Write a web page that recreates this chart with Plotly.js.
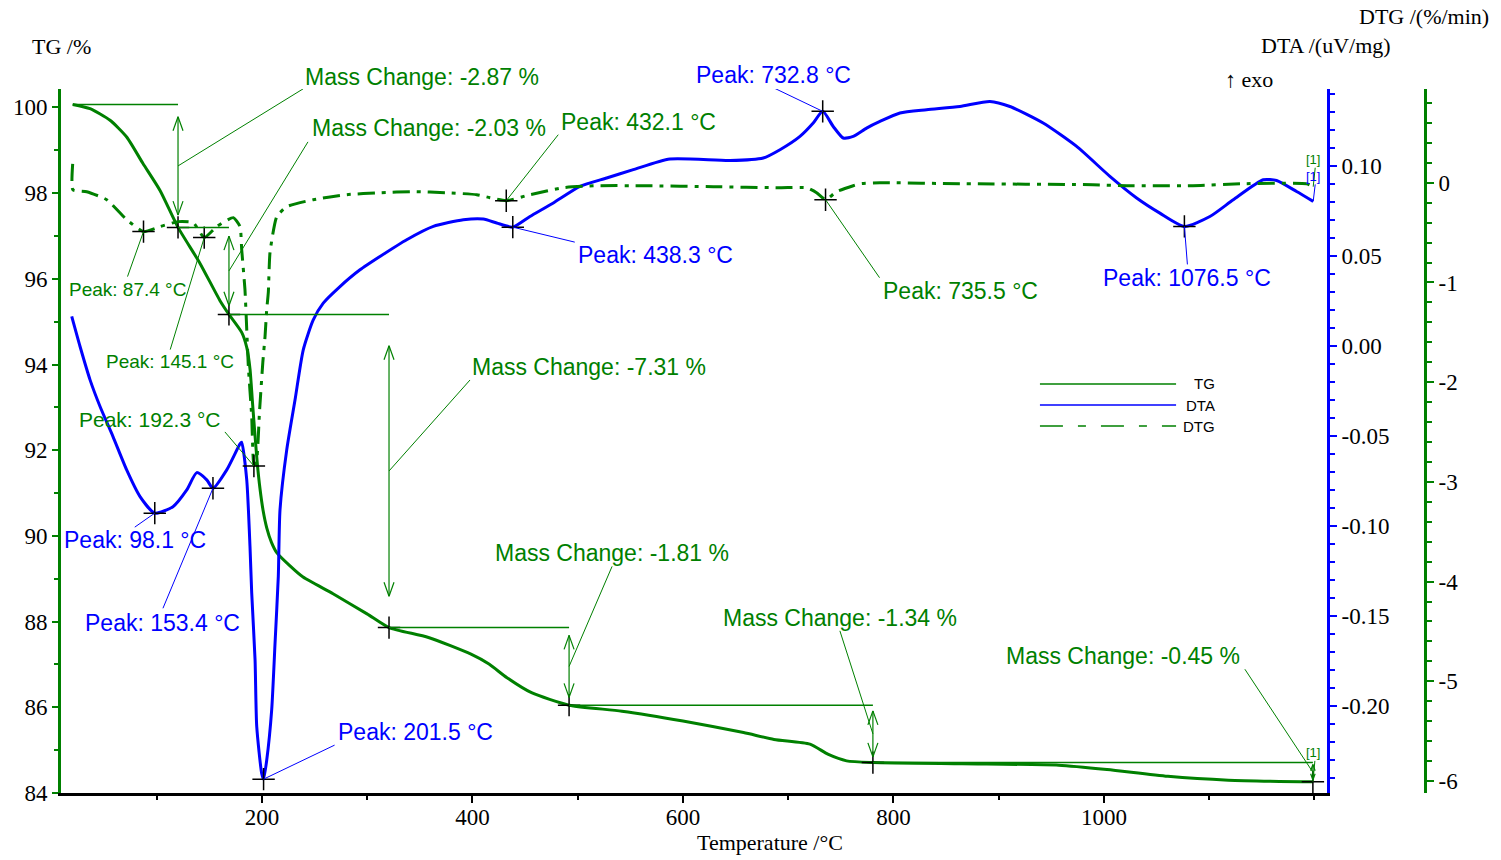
<!DOCTYPE html>
<html>
<head>
<meta charset="utf-8">
<script src="https://cdn.plot.ly/plotly-3.0.1.min.js"></script>
<style>
  html, body { margin: 0; padding: 0; background: #ffffff; }
  #chart { width: 1501px; height: 860px; }
</style>
</head>
<body>
<div id="chart"></div>
<script>
// ---- Measured curves ----------------------------------------------------
// TG: residual mass (%) against temperature (°C)
const tgTemp = [20.1, 36.6, 55.6, 71.4, 86.9, 103.1, 120.2, 141.1, 160.1, 168.6,
  180.7, 185.5, 188.6, 191.0, 193.5, 195.5, 198.1, 201.0, 204.5, 209.0, 214.0,
  226.6, 239.0, 267.5, 299.8, 320.7, 358.2, 398.6, 415.7, 432.8, 456.1, 491.8,
  542.0, 600.0, 657.6, 686.5, 720.7, 738.2, 755.5, 780.5, 865.1, 957.1, 1002.9,
  1060.8, 1118.3, 1198.6];
const tgMass = [100.07, 99.97, 99.70, 99.31, 98.69, 98.06, 97.20, 96.36, 95.49, 95.17,
  94.75, 94.40, 93.90, 93.10, 92.30, 91.70, 91.10, 90.60, 90.19, 89.85, 89.61,
  89.30, 89.04, 88.65, 88.18, 87.86, 87.63, 87.24, 87.01, 86.69, 86.34, 86.05,
  85.91, 85.68, 85.41, 85.25, 85.14, 84.90, 84.75, 84.71, 84.68, 84.65, 84.55,
  84.39, 84.30, 84.26];

// DTA: heat flow signal (uV/mg), exo up
const dtaTemp = [19.2, 27.1, 36.6, 46.1, 58.4, 71.4, 84.1, 98.1, 115.4, 128.5,
  138.0, 147.5, 153.4, 166.5, 179.1, 180.7, 185.5, 188.6, 190.2, 193.4, 195.0,
  199.7, 201.5, 204.5, 209.2, 212.4, 215.5, 217.1, 223.5, 231.4, 239.2, 248.7,
  258.2, 274.1, 293.1, 312.1, 337.5, 362.8, 391.3, 410.3, 423.0, 438.3, 454.6,
  476.8, 502.1, 527.5, 552.8, 587.6, 644.7, 676.3, 692.2, 711.2, 723.8, 732.8,
  742.8, 752.3, 761.8, 774.5, 787.2, 806.2, 831.5, 863.2, 891.7, 910.7, 942.3,
  974.1, 1005.7, 1031.1, 1053.2, 1076.5, 1100.7, 1122.9, 1151.4, 1164.1, 1183.1,
  1198.9];
const dtaSignal = [0.0163, -0.0004, -0.0189, -0.0337, -0.0504, -0.0689, -0.0837, -0.0929, -0.0893, -0.0800,
  -0.0704, -0.0744, -0.0791, -0.0689, -0.0545, -0.0535, -0.0744, -0.1115, -0.1370, -0.1744, -0.2115,
  -0.2374, -0.2406, -0.2300, -0.2022, -0.1650, -0.1280, -0.0911, -0.0578, -0.0300, -0.0022, 0.0144,
  0.0237, 0.0329, 0.0422, 0.0496, 0.0589, 0.0663, 0.0700, 0.0704, 0.0682, 0.0659, 0.0718,
  0.0793, 0.0885, 0.0932, 0.0978, 0.1037, 0.1029, 0.1043, 0.1089, 0.1163, 0.1237, 0.1302,
  0.1218, 0.1154, 0.1163, 0.1209, 0.1246, 0.1293, 0.1311, 0.1329, 0.1357, 0.1329, 0.1237,
  0.1107, 0.0941, 0.0821, 0.0737, 0.0663, 0.0718, 0.0811, 0.0922, 0.0918, 0.0857,
  0.0802];

// DTG: rate of mass change (%/min)
const dtgTemp = [20.1, 20.3, 33.4, 52.4, 71.4, 87.4, 103.1, 120.5, 134.7, 145.1,
  157.0, 172.7, 179.1, 180.7, 183.8, 185.5, 187.0, 190.2, 192.3, 195.0, 197.6,
  200.8, 202.9, 204.5, 206.0, 207.6, 214.0, 223.5, 248.7, 280.5, 312.0, 343.6,
  375.5, 404.0, 416.6, 432.1, 454.6, 486.3, 518.0, 565.5, 628.8, 692.2, 717.5,
  727.0, 735.5, 746.0, 761.8, 768.2, 787.2, 863.2, 989.6, 1021.6, 1084.6, 1132.0,
  1192.6, 1198.9];
const dtgRate = [0.19, -0.07, -0.09, -0.17, -0.37, -0.49, -0.44, -0.39, -0.40, -0.55,
  -0.44, -0.35, -0.44, -0.67, -1.07, -1.47, -1.84, -2.34, -2.84, -2.77, -2.30,
  -1.80, -1.54, -1.27, -1.10, -0.70, -0.34, -0.24, -0.17, -0.12, -0.10, -0.09,
  -0.10, -0.12, -0.15, -0.18, -0.12, -0.05, -0.03, -0.03, -0.04, -0.05, -0.05,
  -0.10, -0.17, -0.09, -0.03, -0.01, 0.00, -0.01, -0.02, -0.03, -0.03, -0.01,
  -0.01, -0.04];

// ---- Evaluation results ---------------------------------------------------
const dtaPeakTemp = [98.1, 153.4, 201.5, 438.3, 732.8, 1076.5];
const dtgPeakTemp = [87.4, 145.1, 192.3, 432.1, 735.5];
const tgInitial = 100.07;
const stepEndTemp = [120.2, 168.6, 320.7, 491.8, 780.5, 1198.6];
const massChange = [-2.87, -2.03, -7.31, -1.81, -1.34, -0.45];

// ---- Tick labels ----------------------------------------------------------
const tempTicks = [200, 400, 600, 800, 1000];
const tgTicks = [84, 86, 88, 90, 92, 94, 96, 98, 100];
const dtaTicks = [-0.20, -0.15, -0.10, -0.05, 0.00, 0.05, 0.10];
const dtaTickText = ['-0.20', '-0.15', '-0.10', '-0.05', '0.00', '0.05', '0.10'];
const dtgTicks = [-6, -5, -4, -3, -2, -1, 0];
const dtgTickText = ['-6', '-5', '-4', '-3', '-2', '-1', '0'];

// ---- Styling --------------------------------------------------------------
const GREEN = '#008000';
const BLUE = '#0000ff';
const SERIF = '"Liberation Serif", "Times New Roman", Times, serif';
const SANS = '"Liberation Sans", Arial, Helvetica, sans-serif';

const X_RANGE = [9, 1212];
const TG_RANGE = [84, 100.43];
const DTA_RANGE = [-0.2483, 0.1426];
const DTG_RANGE = [-6.12, 0.94];
const PLOT_H = 704;

// Label placement: offsets in screen pixels (x right, y down) from the anchor point
const dtaLabelPlace = [
  { lead: [-20, 14], text: [-20, 27], xanchor: 'center', size: 23 },
  { lead: [-50, 120], text: [-50, 135], xanchor: 'center', size: 23 },
  { lead: [71, -34], text: [72, -47], xanchor: 'left', size: 23 },
  { lead: [62, 15], text: [63, 28], xanchor: 'left', size: 23 },
  { lead: [-48, -23], text: [-49, -36], xanchor: 'center', size: 23 },
  { lead: [3, 38], text: [3, 52], xanchor: 'center', size: 23 }
];
const dtgLabelPlace = [
  { lead: [-16, 45], text: [-16, 58], xanchor: 'center', size: 19 },
  { lead: [-34, 112], text: [-34, 124], xanchor: 'center', size: 19 },
  { lead: [-29, -34], text: [-32, -46], xanchor: 'right', size: 21 },
  { lead: [52, -66], text: [53, -79], xanchor: 'left', size: 23 },
  { lead: [54, 78], text: [55, 91], xanchor: 'left', size: 23 }
];
const massLabelPlace = [
  { lead: [125, -77], text: [125, -89], xanchor: 'left' },
  { lead: [79, -129], text: [81, -143], xanchor: 'left' },
  { lead: [81, -91], text: [81, -104], xanchor: 'left' },
  { lead: [43, -100], text: [43, -113], xanchor: 'center' },
  { lead: [-33, -103], text: [-33, -116], xanchor: 'center' },
  { lead: [-68, -103], text: [-71, -116], xanchor: 'right' }
];

// ---- Helpers --------------------------------------------------------------
function interp(xs, ys, x) {
  for (let i = 1; i < xs.length; i++) {
    if (x <= xs[i]) {
      const t = (x - xs[i - 1]) / (xs[i] - xs[i - 1]);
      return ys[i - 1] + t * (ys[i] - ys[i - 1]);
    }
  }
  return ys[ys.length - 1];
}
function fmtNum(v, d) { return v.toFixed(d).replace('\u2212', '-'); }

const shapes = [];
const annotations = [];

function addLabel(x, y, yref, place, text, color, size) {
  shapes.push({
    type: 'line', layer: 'above', xref: 'x', yref: yref,
    xsizemode: 'pixel', ysizemode: 'pixel', xanchor: x, yanchor: y,
    x0: 0, y0: 0, x1: place.lead[0], y1: -place.lead[1],
    line: { color: color, width: 1 }
  });
  annotations.push({
    xref: 'x', yref: yref, x: x, y: y, text: text, showarrow: false,
    xshift: place.text[0], yshift: -place.text[1],
    xanchor: place.xanchor, yanchor: 'middle',
    font: { family: SANS, size: size, color: color }
  });
}

// Peak markers on DTA and DTG
const dtaPeakVal = dtaPeakTemp.map(t => interp(dtaTemp, dtaSignal, t));
const dtgPeakVal = dtgPeakTemp.map(t => interp(dtgTemp, dtgRate, t));
dtaPeakTemp.forEach((t, i) => addLabel(t, dtaPeakVal[i], 'y2', dtaLabelPlace[i],
  'Peak: ' + fmtNum(t, 1) + ' \u00b0C', BLUE, dtaLabelPlace[i].size));
dtgPeakTemp.forEach((t, i) => addLabel(t, dtgPeakVal[i], 'y3', dtgLabelPlace[i],
  'Peak: ' + fmtNum(t, 1) + ' \u00b0C', GREEN, dtgLabelPlace[i].size));

// Mass-change steps: level lines, double arrows and labels
const levels = [tgInitial];
massChange.forEach(m => levels.push(levels[levels.length - 1] + m));
const tgPx = PLOT_H / (TG_RANGE[1] - TG_RANGE[0]);
massChange.forEach((m, k) => {
  const xStart = k === 0 ? tgTemp[0] : stepEndTemp[k - 1];
  const xEnd = stepEndTemp[k];
  const top = levels[k], bot = levels[k + 1];
  const span = top - bot;
  const tipTop = top - 0.1 * span, tipBot = bot + 0.1 * span;
  // level line
  shapes.push({ type: 'line', layer: 'above', xref: 'x', yref: 'y',
    x0: xStart, x1: xEnd, y0: top, y1: top, line: { color: GREEN, width: 1.5 } });
  // arrow shaft
  shapes.push({ type: 'line', layer: 'above', xref: 'x', yref: 'y',
    x0: xEnd, x1: xEnd, y0: tipTop, y1: tipBot, line: { color: GREEN, width: 1.2 } });
  // arrow heads
  const hl = Math.min(14, 0.4 * (tipTop - tipBot) * tgPx);
  const hw = Math.min(5, hl * 0.36);
  [[tipTop, -1], [tipBot, 1]].forEach(([yy, dir]) => {
    [-1, 1].forEach(side => shapes.push({
      type: 'line', layer: 'above', xref: 'x', yref: 'y',
      xsizemode: 'pixel', ysizemode: 'pixel', xanchor: xEnd, yanchor: yy,
      x0: 0, y0: 0, x1: side * hw, y1: dir * hl,
      line: { color: GREEN, width: 1.2 }
    }));
  });
  addLabel(xEnd, (top + bot) / 2, 'y', massLabelPlace[k],
    'Mass Change: ' + fmtNum(m, 2) + ' %', GREEN, 23);
});

// End-of-curve reference tags
const tagSpecs = [
  { x: dtgTemp[dtgTemp.length - 1], y: dtgRate[dtgRate.length - 1], yref: 'y3', color: GREEN, dy: 27 },
  { x: dtaTemp[dtaTemp.length - 1], y: dtaSignal[dtaSignal.length - 1], yref: 'y2', color: BLUE, dy: 25 },
  { x: tgTemp[tgTemp.length - 1], y: tgMass[tgMass.length - 1], yref: 'y', color: GREEN, dy: 29 }
];
tagSpecs.forEach(s => {
  annotations.push({ xref: 'x', yref: s.yref, x: s.x, y: s.y, text: '[1]', showarrow: false,
    xshift: 0, yshift: s.dy, xanchor: 'center', yanchor: 'middle',
    font: { family: SANS, size: 13, color: s.color } });
  shapes.push({ type: 'line', layer: 'above', xref: 'x', yref: s.yref,
    xsizemode: 'pixel', ysizemode: 'pixel', xanchor: s.x, yanchor: s.y,
    x0: 0, y0: 0, x1: 2, y1: s.dy - 8, line: { color: s.color, width: 1 } });
});

// Axis captions placed above the axes
function paperText(text, x, y, size) {
  annotations.push({ xref: 'paper', yref: 'paper', x: x, y: y, text: text,
    showarrow: false, xanchor: 'center', yanchor: 'middle',
    font: { family: SERIF, size: size, color: '#000000' } });
}
paperText('TG /%', 0.0, 1.0597, 22);
paperText('DTA /(uV/mg)', 0.9274, 1.0611, 22);
paperText('DTG /(%/min)', 0.9993, 1.1023, 22);
paperText('\u2191 exo', 0.8710, 1.0128, 22);
paperText('Temperature /\u00b0C', 0.5198, -0.0710, 22);

// Legend
const legendItems = [
  { name: 'TG', color: GREEN, dash: 'solid', y: 0.5810 },
  { name: 'DTA', color: BLUE, dash: 'solid', y: 0.5511 },
  { name: 'DTG', color: GREEN, dash: '23px,15px,8px,15px', y: 0.5213 }
];
legendItems.forEach(it => {
  shapes.push({ type: 'line', xref: 'paper', yref: 'paper', x0: 0.7177, x1: 0.8175,
    y0: it.y, y1: it.y, line: { color: it.color, width: 1.4, dash: it.dash } });
  annotations.push({ xref: 'paper', yref: 'paper', x: 0.8475, y: it.y, text: it.name,
    showarrow: false, xanchor: 'right', yanchor: 'middle',
    font: { family: SANS, size: 15, color: '#000000' } });
});

// ---- Traces ---------------------------------------------------------------
const crossMarker = { symbol: 'cross-thin', size: 16, line: { width: 1.5, color: '#000000' } };
const traces = [
  { x: tgTemp, y: tgMass, name: 'TG', type: 'scatter', mode: 'lines', yaxis: 'y',
    line: { color: GREEN, width: 3, shape: 'spline', smoothing: 0.6 } },
  { x: dtaTemp, y: dtaSignal, name: 'DTA', type: 'scatter', mode: 'lines', yaxis: 'y2',
    line: { color: BLUE, width: 3, shape: 'spline', smoothing: 0.6 } },
  { x: dtgTemp, y: dtgRate, name: 'DTG', type: 'scatter', mode: 'lines', yaxis: 'y3',
    line: { color: GREEN, width: 3, dash: '17px,7px,4px,7px', shape: 'spline', smoothing: 0.5 } },
  { x: stepEndTemp, y: levels.slice(1), type: 'scatter', mode: 'markers', yaxis: 'y',
    marker: crossMarker, cliponaxis: false, hoverinfo: 'skip' },
  { x: dtaPeakTemp, y: dtaPeakVal, type: 'scatter', mode: 'markers', yaxis: 'y2',
    marker: crossMarker, cliponaxis: false, hoverinfo: 'skip' },
  { x: dtgPeakTemp, y: dtgPeakVal, type: 'scatter', mode: 'markers', yaxis: 'y3',
    marker: crossMarker, cliponaxis: false, hoverinfo: 'skip' }
];

// ---- Layout ---------------------------------------------------------------
const tickFont = { family: SERIF, size: 23, color: '#000000' };
const layout = {
  width: 1501, height: 860,
  margin: { l: 61, r: 76, t: 89, b: 67, pad: 0 },
  paper_bgcolor: '#ffffff', plot_bgcolor: '#ffffff',
  showlegend: false,
  xaxis: {
    domain: [0, 0.92815], range: X_RANGE, tickmode: 'array', tickvals: tempTicks,
    showline: true, linecolor: '#000000', linewidth: 3, mirror: false,
    ticks: 'outside', ticklen: 7, tickwidth: 2, tickcolor: '#000000', ticklabelstandoff: -6,
    minor: { tick0: 0, dtick: 100, ticks: 'outside', ticklen: 4, tickwidth: 2, tickcolor: '#000000' },
    showgrid: false, zeroline: false, tickfont: tickFont
  },
  yaxis: {
    range: TG_RANGE, tickmode: 'array', tickvals: tgTicks,
    showline: true, linecolor: GREEN, linewidth: 3,
    ticks: 'outside', ticklen: 6, tickwidth: 2, tickcolor: GREEN,
    minor: { tick0: 0, dtick: 1, ticks: 'outside', ticklen: 4, tickwidth: 2, tickcolor: GREEN },
    showgrid: false, zeroline: false, tickfont: tickFont
  },
  yaxis2: {
    range: DTA_RANGE, overlaying: 'y', side: 'right', anchor: 'x',
    tickmode: 'array', tickvals: dtaTicks, ticktext: dtaTickText,
    showline: true, linecolor: BLUE, linewidth: 3,
    ticks: 'outside', ticklen: 7, tickwidth: 2, tickcolor: BLUE,
    minor: { tick0: 0, dtick: 0.01, ticks: 'outside', ticklen: 5, tickwidth: 2, tickcolor: BLUE },
    showgrid: false, zeroline: false, tickfont: tickFont
  },
  yaxis3: {
    range: DTG_RANGE, overlaying: 'y', side: 'right', anchor: 'free', position: 1,
    tickmode: 'array', tickvals: dtgTicks, ticktext: dtgTickText,
    showline: true, linecolor: GREEN, linewidth: 3,
    ticks: 'outside', ticklen: 7, tickwidth: 2, tickcolor: GREEN,
    minor: { tick0: 0, dtick: 0.2, ticks: 'outside', ticklen: 5, tickwidth: 2, tickcolor: GREEN },
    showgrid: false, zeroline: false, tickfont: tickFont
  },
  shapes: shapes,
  annotations: annotations
};

Plotly.newPlot('chart', traces, layout, { staticPlot: true, displayModeBar: false });
</script>
</body>
</html>
